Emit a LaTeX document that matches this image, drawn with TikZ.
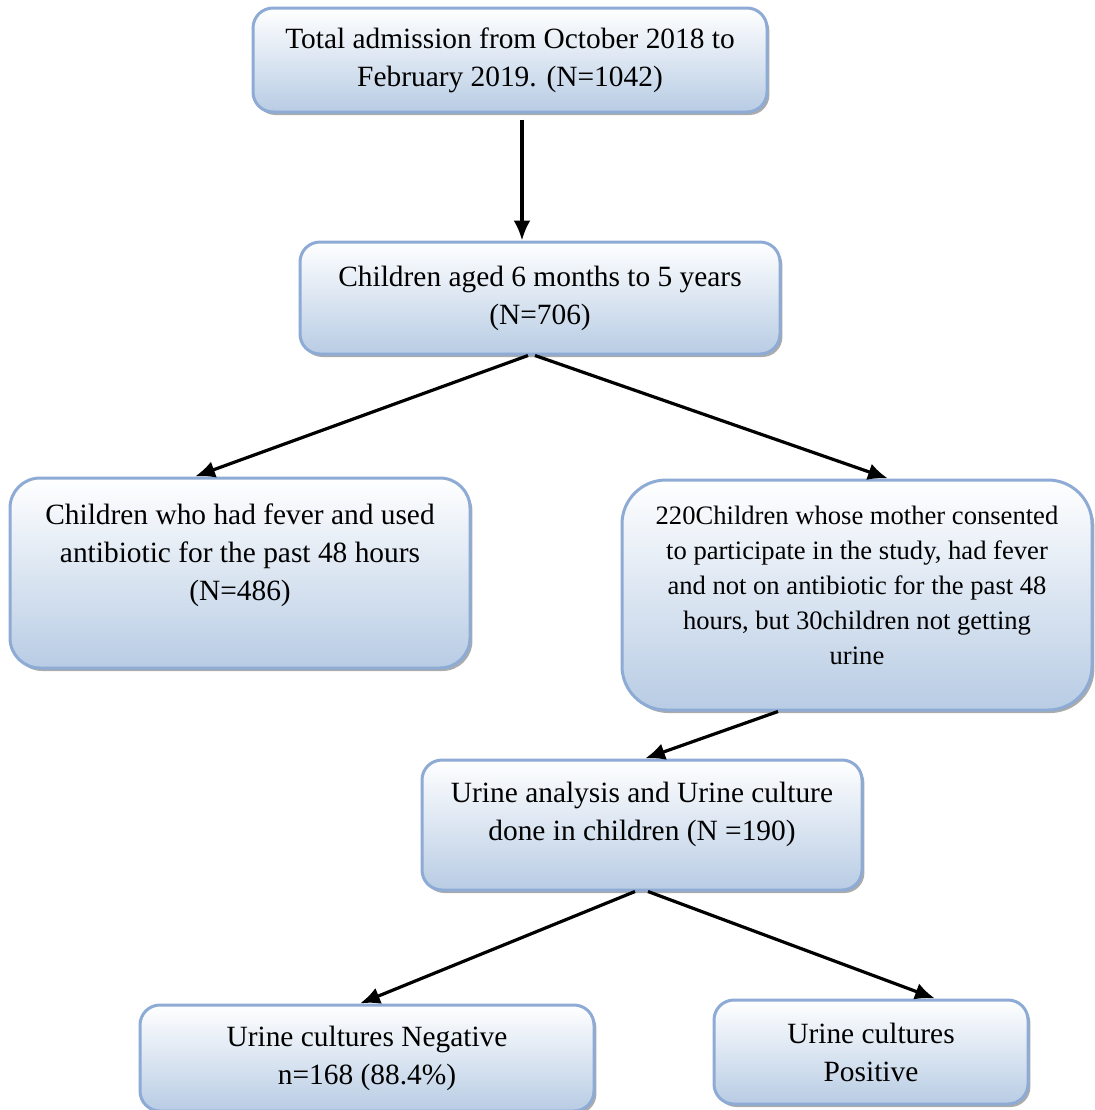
\documentclass[tikz,border=0pt]{standalone}
\usepackage{fontspec}
\setmainfont{Liberation Serif}
\usetikzlibrary{arrows.meta,shadows}

\definecolor{boxline}{RGB}{141,171,212}
\definecolor{boxfill}{RGB}{184,204,228}

\tikzset{
    flowbox/.style={draw=boxline, line width=1.5pt, rounded corners=10pt,
        top color=white, bottom color=boxfill, align=center,
        font=\fontsize{14.7}{19}\selectfont,
        drop shadow={shadow xshift=1.2pt, shadow yshift=-1.5pt, fill=black!55, opacity=0.6}},
    flowarrow/.style={-{Latex[length=10pt,width=8.5pt]}, line width=1.6pt, black}
}

\begin{document}
\begin{tikzpicture}[x=0.5pt,y=-0.5pt]
            \useasboundingbox (0,0) rectangle (1095,1110);

            % boxes, placed at their centres
            \node[flowbox, minimum width=257pt, minimum height=52pt] (total) at (510,60)
                {Total admission from October 2018 to\\February 2019. (N=1042)};
            \node[flowbox, minimum width=240pt, minimum height=56pt] (children) at (540,298)
                {Children aged 6 months to 5 years\\(N=706)};
            \node[flowbox, minimum width=230pt, minimum height=95pt, rounded corners=15pt,
                text depth=21pt] (fever) at (240,573)
                {Children who had fever and used\\antibiotic for the past 48 hours\\(N=486)};
            \node[flowbox, minimum width=235pt, minimum height=115pt, rounded corners=22pt,
                font=\fontsize{13.3}{17.5}\selectfont, text depth=10pt] (consent) at (857,595)
                {220Children whose mother consented\\to participate in the study, had fever\\and not on antibiotic for the past 48\\hours, but 30children not getting\\urine};
            \node[flowbox, minimum width=220pt, minimum height=65pt, text depth=14pt] (urine) at (642,825)
                {Urine analysis and Urine culture\\done in children (N =190)};
            \node[flowbox, minimum width=227pt, minimum height=53pt] (negative) at (367,1058)
                {Urine cultures Negative\\n=168 (88.4\%)};
            \node[flowbox, minimum width=157pt, minimum height=52pt] (positive) at (871,1052)
                {Urine cultures\\Positive};

            % arrows between the boxes
            \draw[flowarrow, shorten <=3pt] ([xshift=6pt]total.south) -- ([xshift=-9pt]children.north);
            \draw[flowarrow] ([xshift=-6pt]children.south) -- ([xshift=-22.5pt]fever.north);
            \draw[flowarrow] ([xshift=-2.5pt]children.south) -- ([xshift=15.5pt]consent.north);
            \draw[flowarrow] ([xshift=-39.5pt]consent.south) -- ([xshift=1.5pt]urine.north);
            \draw[flowarrow] ([xshift=-3.5pt]urine.south) -- ([xshift=-3.5pt]negative.north);
            \draw[flowarrow] ([xshift=3pt]urine.south) -- ([xshift=32pt]positive.north);
\end{tikzpicture}
\end{document}
